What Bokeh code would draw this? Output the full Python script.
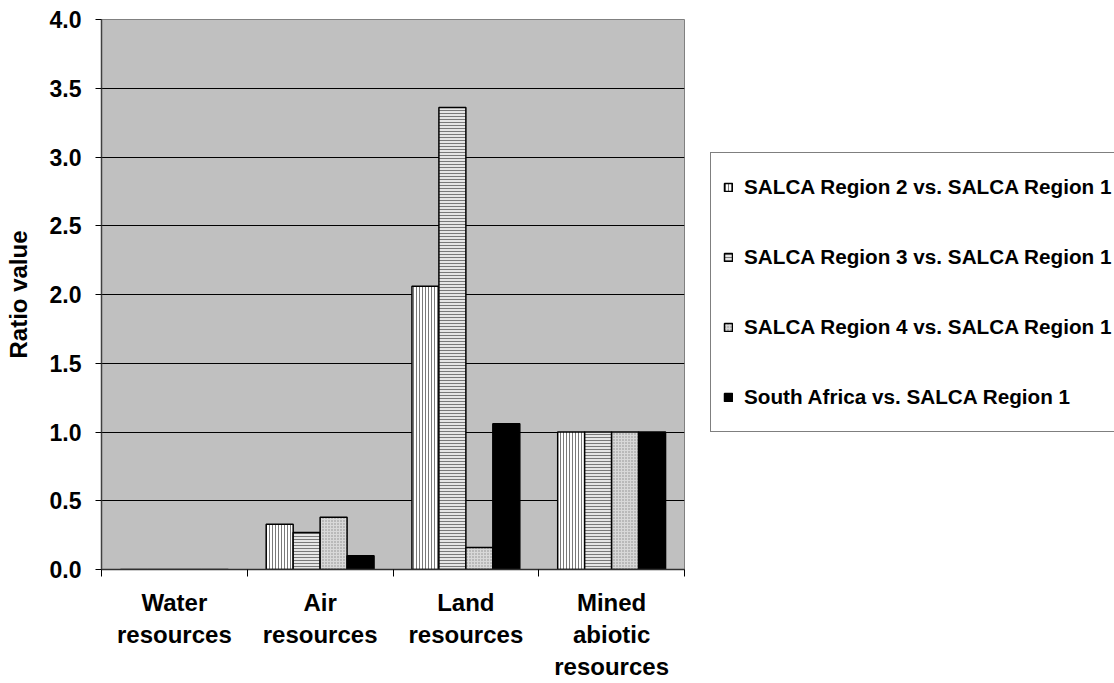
from bokeh.plotting import figure
from bokeh.models import FixedTicker, Legend, LegendItem, ColumnDataSource, Range1d, PrintfTickFormatter
from bokeh.embed import file_html
from bokeh.resources import INLINE

categories = ["Water\nresources", "Air\nresources", "Land\nresources", "Mined\nabiotic\nresources"]
series_names = [
    "SALCA Region 2 vs. SALCA Region 1",
    "SALCA Region 3 vs. SALCA Region 1",
    "SALCA Region 4 vs. SALCA Region 1",
    "South Africa vs. SALCA Region 1",
]
region2 = [0.0, 0.33, 2.06, 1.0]
region3 = [0.0, 0.27, 3.36, 1.0]
region4 = [0.0, 0.38, 0.16, 1.0]
south_africa = [0.0, 0.10, 1.06, 1.0]
series_values = [region2, region3, region4, south_africa]
y_ticks = [0.0, 0.5, 1.0, 1.5, 2.0, 2.5, 3.0, 3.5, 4.0]

FONT = "Liberation Sans"
styles = [
    dict(fill_color="white", hatch_pattern="vertical_line", hatch_color="#7a7a7a", hatch_scale=3, hatch_weight=1),
    dict(fill_color="#e6e6e6", hatch_pattern="horizontal_line", hatch_color="#7a7a7a", hatch_scale=3, hatch_weight=1),
    dict(fill_color="#d8d8d8", hatch_pattern="dot", hatch_color="#8a8a8a", hatch_scale=3, hatch_weight=1),
    dict(fill_color="black"),
]

H = 683
p = figure(frame_width=583, height=H, x_range=Range1d(0, 4), y_range=Range1d(0, 4),
           output_backend="svg", toolbar_location=None,
           min_border_left=101, min_border_right=0, min_border_top=19, min_border_bottom=0)
p.background_fill_color = "#c0c0c0"
p.border_fill_color = "white"
p.outline_line_color = "#808080"
p.outline_line_width = 1

bar_w = 0.185
renderers = []
for k, (vals, st) in enumerate(zip(series_values, styles)):
    xs = [i + 0.5 + (k - 1.5) * bar_w for i in range(len(categories))]
    src = ColumnDataSource(dict(x=xs, top=vals))
    r = p.vbar(x="x", top="top", bottom=0, width=bar_w, source=src,
               line_color="black", line_width=1.5, **st)
    renderers.append(r)

# x axis: category names centred, boundary ticks
centers = [i + 0.5 for i in range(len(categories))]
p.xaxis.ticker = FixedTicker(ticks=centers, minor_ticks=list(range(len(categories) + 1)))
p.xaxis.major_label_overrides = {c: name for c, name in zip(centers, categories)}
p.xaxis.major_label_text_font = FONT
p.xaxis.major_label_text_font_style = "bold"
p.xaxis.major_label_text_font_size = "24px"
p.xaxis.major_label_text_color = "black"
p.xaxis.major_label_text_line_height = 1.2
p.xaxis.major_label_standoff = 12
p.xaxis.major_tick_out = 0
p.xaxis.major_tick_in = 0
p.xaxis.minor_tick_in = 0
p.xaxis.minor_tick_out = 7
p.xaxis.minor_tick_line_color = "black"
p.xaxis.axis_line_color = "#303030"
p.xaxis.axis_line_width = 1.5

p.yaxis.ticker = FixedTicker(ticks=y_ticks, minor_ticks=[])
p.yaxis.formatter = PrintfTickFormatter(format="%.1f")
p.yaxis.major_tick_in = 0
p.yaxis.major_tick_out = 6
p.yaxis.major_tick_line_color = "black"
p.yaxis.axis_line_color = "#404040"
p.yaxis.axis_line_width = 1.5
p.yaxis.major_label_standoff = 14
p.yaxis.major_label_text_font = FONT
p.yaxis.major_label_text_font_style = "bold"
p.yaxis.major_label_text_font_size = "23px"
p.yaxis.major_label_text_color = "black"
p.yaxis.axis_label = "Ratio value"
p.yaxis.axis_label_text_font = FONT
p.yaxis.axis_label_text_font_style = "bold"
p.yaxis.axis_label_text_font_size = "24px"
p.yaxis.axis_label_text_color = "black"
p.yaxis.axis_label_standoff = 15

p.xgrid.visible = False
p.ygrid.ticker = FixedTicker(ticks=y_ticks[1:-1])
p.ygrid.grid_line_color = "black"
p.ygrid.grid_line_width = 1

legend = Legend(items=[LegendItem(label=n, renderers=[r]) for n, r in zip(series_names, renderers)],
                location=(26, 137))
legend.border_line_color = "black"
legend.border_line_width = 1
legend.background_fill_color = "white"
legend.background_fill_alpha = 1
legend.padding = 12
legend.spacing = 26
legend.margin = 8
legend.label_height = 44
legend.glyph_height = 10
legend.glyph_width = 10
legend.label_standoff = 11
legend.label_text_font = FONT
legend.label_text_font_style = "bold"
legend.label_text_font_size = "20.7px"
legend.label_text_color = "black"
p.add_layout(legend, "right")

open("out.html", "w").write(file_html(p, INLINE))
